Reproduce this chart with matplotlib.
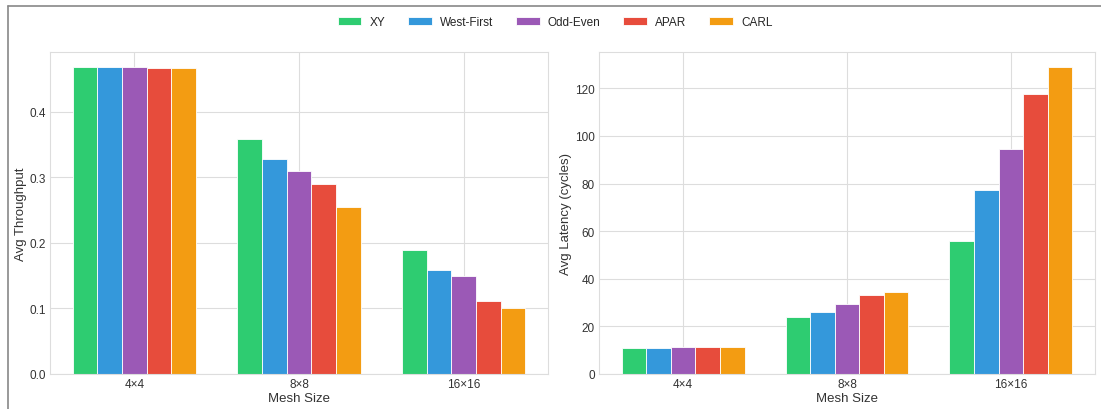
import matplotlib
matplotlib.use('Agg')
import numpy as np
import seaborn as sns
from matplotlib import pyplot as plt
from matplotlib.lines import Line2D

sns.set_style("whitegrid")
plt.rcParams['font.family'] = ['Liberation Sans', 'DejaVu Sans']

# data
mesh_sizes = ["4×4", "8×8", "16×16"]
algorithms = ["XY", "West-First", "Odd-Even", "APAR", "CARL"]
colors = ["#2ecc71", "#3498db", "#9b59b6", "#e74c3c", "#f39c12"]

throughput = {
    "XY":         [0.468, 0.358, 0.189],
    "West-First": [0.468, 0.328, 0.159],
    "Odd-Even":   [0.468, 0.310, 0.150],
    "APAR":       [0.467, 0.290, 0.111],
    "CARL":       [0.467, 0.255, 0.100],
}
latency = {
    "XY":         [10.9, 24.0, 55.8],
    "West-First": [11.0, 25.9, 77.2],
    "Odd-Even":   [11.4, 29.5, 94.7],
    "APAR":       [11.4, 33.3, 117.5],
    "CARL":       [11.4, 34.4, 128.8],
}

fig = plt.figure(figsize=(11.01, 4.10), dpi=100)
W, H = 1101, 410
ax1 = fig.add_axes([50 / W, 1 - 375 / H, 498 / W, 322 / H])
ax2 = fig.add_axes([599 / W, 1 - 375 / H, 496 / W, 322 / H])

x = np.arange(len(mesh_sizes))
width = 0.15

for ax, data, ylabel in [(ax1, throughput, "Avg Throughput"),
                         (ax2, latency, "Avg Latency (cycles)")]:
    for i, alg in enumerate(algorithms):
        ax.bar(x + (i - 2) * width, data[alg], width, label=alg,
               color=colors[i], edgecolor='white', linewidth=0.6)
    ax.set_xticks(x)
    ax.set_xticklabels(mesh_sizes)
    ax.set_xlabel("Mesh Size", fontsize=9.5, color='#333333', labelpad=1)
    ax.set_ylabel(ylabel, fontsize=9.5, color='#333333', labelpad=2)
    ax.tick_params(labelsize=8.5, colors='#333333', pad=3, length=0)
    ax.grid(True, color='#dddddd', linewidth=0.8)
    for s in ax.spines.values():
        s.set_color('#dddddd')

ax1.set_yticks([0.0, 0.1, 0.2, 0.3, 0.4])
ax2.set_yticks([0, 20, 40, 60, 80, 100, 120])

handles, labels = ax1.get_legend_handles_labels()
fig.legend(handles, labels, loc='center', bbox_to_anchor=(555 / W, 1 - 23 / H),
           ncol=5, frameon=False, fontsize=8.5, handlelength=2.0,
           handletextpad=0.68, columnspacing=1.95)

# outer frame lines of the screenshot
fig.add_artist(Line2D([8 / W, 1], [1 - 7 / H, 1 - 7 / H], color='#888888',
                      linewidth=1.2, transform=fig.transFigure))
fig.add_artist(Line2D([8 / W, 8 / W], [0, 1 - 7 / H], color='#888888',
                      linewidth=1.2, transform=fig.transFigure))

plt.savefig("out.png", dpi=100)
